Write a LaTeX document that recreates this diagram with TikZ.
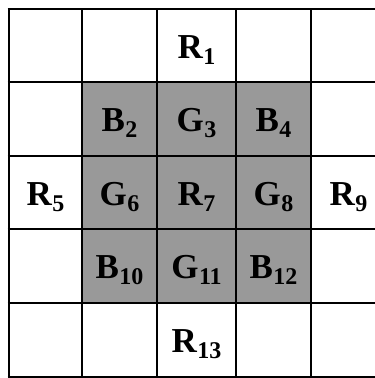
\documentclass[tikz,border=0pt]{standalone}
\usepackage{fontspec}
\setmainfont{Liberation Serif}
\newcommand{\lbl}[2]{\bfseries{\fontsize{35}{35}\selectfont #1}\kern0.5pt\raisebox{-6pt}{\fontsize{24}{24}\selectfont #2}}
\begin{document}
\begin{tikzpicture}[x=1pt,y=-1pt,
  gridline/.style={line width=2.6pt,black},
  shade/.style={fill=black!40},
  cell/.style={anchor=base,inner sep=0pt,text=black}]
\useasboundingbox (0,0) rectangle (375,378);
\clip (0,0) rectangle (375,378);
\fill[white] (0,0) rectangle (375,378);
% shaded centre block
\fill[shade] (82,82) rectangle (311,303);
% grid lines
\foreach \x in {9,82,157,236,311} \draw[gridline] (\x,9) -- (\x,380);
\foreach \y in {9,82,156,229,303,377} \draw[gridline] (7.7,\y) -- (380,\y);
% labels
\node[cell] (r1)  at (196.5,58) {\lbl{R}{1}};
\node[cell] (b2)  at (119.5,131.5) {\lbl{B}{2}};
\node[cell] (g3)  at (196.5,131.5) {\lbl{G}{3}};
\node[cell] (b4)  at (273.5,131.5) {\lbl{B}{4}};
\node[cell] (r5)  at (45.5,205) {\lbl{R}{5}};
\node[cell] (g6)  at (119.5,205) {\lbl{G}{6}};
\node[cell] (r7)  at (196.5,205) {\lbl{R}{7}};
\node[cell] (g8)  at (273.5,205) {\lbl{G}{8}};
\node[cell] (r9)  at (348.5,205) {\lbl{R}{9}};
\node[cell] (b10) at (119.5,278.5) {\lbl{B}{10}};
\node[cell] (g11) at (196.5,278.5) {\lbl{G}{11}};
\node[cell] (b12) at (273.5,278.5) {\lbl{B}{12}};
\node[cell] (r13) at (196.5,352) {\lbl{R}{13}};
\end{tikzpicture}
\end{document}
